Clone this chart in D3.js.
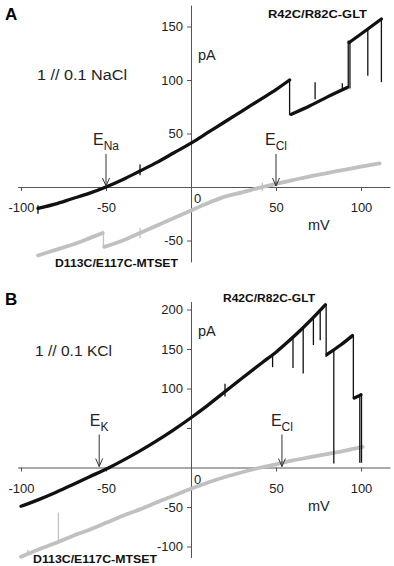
<!DOCTYPE html>
<html>
<head>
<meta charset="utf-8">
<script src="https://cdn.jsdelivr.net/npm/d3@7"></script>
<style>
  html, body { margin: 0; padding: 0; background: #fff; }
  svg { display: block; font-family: "Liberation Sans", Arial, sans-serif; }
</style>
</head>
<body>
<svg id="chart" width="394" height="566"></svg>
<script>
/* ── Données (mV, pA) ──────────────────────────────────────────────────── */

const xTicks = [-100, -50, 0, 50, 100];

// Panneau A : 1 // 0.1 NaCl
const yTicksA  = [-50, 50, 100, 150];
const yLabelsA = [-50, 50, 100, 150];
const glutA = [   // R42C/R82C-GLT, segments entre les sauts
  [[-90, -20], [-80, -16], [-70, -11], [-60, -6], [-50, 0], [-40, 7], [-30, 15], [-20, 23],
   [-10, 32], [0, 41], [10, 51], [20, 61], [30, 71], [40, 81], [50, 91], [58, 100]],
  [[59, 68], [70, 76], [80, 84], [92, 93]],
  [[93, 135], [100, 143], [106, 150], [112, 157]]
];
const glutSpikesA = [   // [mV, pA départ, pA arrivée]
  [58, 100, 67], [92.5, 93, 137], [93.5, 92, 136], [73, 82, 98], [89, 90, 97],
  [104, 147, 104], [112, 157, 98], [-30, 11, 21], [-90, -25, -17]
];
const mtsetA = [   // D113C/E117C-MTSET
  [[-90, -64], [-80, -59], [-70, -54], [-60, -48], [-52, -43]],
  [[-51, -56], [-40, -50], [-30, -43], [-20, -36], [-10, -29], [0, -22], [10, -15], [20, -9],
   [30, -5], [42, 0], [50, 3], [60, 6.5], [70, 10], [80, 13], [90, 16], [100, 19], [111, 22]]
];
const mtsetSpikesA = [[-51.5, -43, -57], [-30, -48, -38], [42, -4, 4]];
const reversalA = [{ ion: 'Na', mV: -50 }, { ion: 'Cl', mV: 50 }];

// Panneau B : 1 // 0.1 KCl
const yTicksB  = [-100, -50, 50, 100, 150, 200];
const yLabelsB = [-100, -50, 100, 150, 200];
const glutB = [
  [[-100, -49], [-90, -41], [-80, -32], [-70, -22], [-60, -12], [-48, 0], [-40, 9], [-30, 21],
   [-20, 34], [-10, 48], [0, 63], [10, 79], [20, 96], [30, 113], [42, 133], [50, 146],
   [58, 161], [65, 175], [72, 190], [79, 206]],
  [[80, 143], [88, 155], [95, 167]],
  [[96, 88], [98, 90], [100, 92]]
];
const glutSpikesB = [
  [79.5, 206, 140], [95.5, 167, 88], [84, 150, 5], [99.3, 90, 6], [100.3, 92, 6],
  [48, 142, 127], [60, 164, 126], [66, 176, 119], [72, 190, 155], [76, 198, 161], [20, 90, 106]
];
const mtsetB = [
  [[-100, -113], [-90, -104], [-80, -96], [-70, -87], [-60, -79], [-50, -70], [-40, -61],
   [-30, -53], [-20, -44], [-10, -35.5], [0, -27], [10, -19], [20, -12], [30, -6], [41, 0],
   [50, 4], [60, 9], [70, 13], [80, 17], [90, 21], [101, 26]]
];
const mtsetSpikesB = [[-78, -94, -57], [-96, -110, -104]];
const reversalB = [{ ion: 'K', mV: -54 }, { ion: 'Cl', mV: 53.5 }];

/* ── Dessin ─────────────────────────────────────────────────────────────── */

const svg = d3.select('#chart');
const INK = '#111', GREY = '#c0c0c0', AXIS = '#555';

function drawPanel(p) {
  const x = d3.scaleLinear().domain([-102, 117]).range([17.6, 389.9]);
  const y = d3.scaleLinear().domain(p.yDomain).range(p.yRange);
  const g = svg.append('g');
  const y0 = y(0);

  // Axe X (croise à 0 pA)
  g.append('g')
    .attr('transform', `translate(0,${y0})`)
    .call(d3.axisBottom(x).tickValues(xTicks).tickSizeInner(4).tickSizeOuter(0)
      .tickFormat(d => String(d)))
    .call(a => {
      a.attr('font-family', null).attr('font-size', null);
      a.select('.domain').attr('stroke', AXIS);
      a.selectAll('.tick line').attr('stroke', AXIS);
      a.selectAll('.tick text')
        .attr('fill', '#222').style('font-size', '13px')
        .attr('dy', 0)
        .attr('y', d => d === 0 ? 16 : 25)
        .attr('x', d => d === 0 ? 6 : 0);
    });

  // Axe Y (croise à 0 mV)
  g.append('g')
    .attr('transform', `translate(${x(0)},0)`)
    .call(d3.axisLeft(y).tickValues(p.yTicks).tickSizeInner(4).tickSizeOuter(0)
      .tickFormat(d => p.yLabels.includes(d) ? String(d) : ''))
    .call(a => {
      a.attr('font-family', null).attr('font-size', null);
      a.select('.domain').attr('stroke', AXIS);
      a.selectAll('.tick line').attr('stroke', AXIS);
      a.selectAll('.tick text').attr('fill', '#222').style('font-size', '13px').attr('x', -8);
    });

  const line = d3.line().x(d => x(d[0])).y(d => y(d[1])).curve(d3.curveMonotoneX);

  function trace(segments, spikes, color, w) {
    g.append('g').selectAll('path').data(segments).join('path')
      .attr('d', line).attr('fill', 'none')
      .attr('stroke', color).attr('stroke-width', w)
      .attr('stroke-linejoin', 'round').attr('stroke-linecap', 'round');
    g.append('g').selectAll('line').data(spikes).join('line')
      .attr('x1', d => x(d[0])).attr('x2', d => x(d[0]))
      .attr('y1', d => y(d[1])).attr('y2', d => y(d[2]))
      .attr('stroke', color).attr('stroke-width', 1.3);
  }
  trace(p.mtset, p.mtsetSpikes, GREY, 3.8);
  trace(p.glut, p.glutSpikes, INK, 3.3);

  // Flèches des potentiels d'inversion
  const rev = g.append('g').selectAll('g').data(p.reversal).join('g')
    .attr('transform', d => `translate(${x(d.mV)},${y0})`);
  rev.append('line').attr('x1', 0).attr('x2', 0).attr('y1', -33).attr('y2', -1)
    .attr('stroke', '#333').attr('stroke-width', 1);
  rev.append('path').attr('d', 'M-3.5,-9L0,-1L3.5,-9')
    .attr('fill', 'none').attr('stroke', '#333').attr('stroke-width', 1);
  const lab = rev.append('text').attr('y', -42).attr('text-anchor', 'middle').attr('fill', '#222');
  lab.append('tspan').style('font-size', '16px').text('E');
  lab.append('tspan').style('font-size', '12px').attr('dy', 5).text(d => d.ion);

  // Textes
  g.append('text').attr('x', 5).attr('y', p.top + 20)
    .style('font-size', '17px').style('font-weight', 'bold').text(p.letter);
  g.append('text').attr('x', p.salt.x).attr('y', p.salt.y)
    .attr('textLength', p.salt.w).attr('lengthAdjust', 'spacingAndGlyphs')
    .style('font-size', '14px').attr('fill', '#222').text(p.salt.t);
  g.append('text').attr('x', 198).attr('y', p.pAy).style('font-size', '14.5px').attr('fill', '#222').text('pA');
  g.append('text').attr('x', 308).attr('y', y0 + 43).style('font-size', '14.5px').attr('fill', '#222').text('mV');
  for (const n of p.names) {
    g.append('text').attr('x', n.x).attr('y', n.y)
      .attr('textLength', n.w).attr('lengthAdjust', 'spacingAndGlyphs')
      .style('font-size', '11px').style('font-weight', 'bold').attr('fill', '#111').text(n.t);
  }
}

drawPanel({
  letter: 'A', top: 0,
  yDomain: [-70, 170], yRange: [187 + 70 * 1.07, 187 - 170 * 1.07],
  yTicks: yTicksA, yLabels: yLabelsA,
  glut: glutA, glutSpikes: glutSpikesA, mtset: mtsetA, mtsetSpikes: mtsetSpikesA,
  reversal: reversalA,
  salt: { t: '1 // 0.1 NaCl', x: 37, y: 80, w: 90 },
  pAy: 60,
  names: [
    { t: 'R42C/R82C-GLT', x: 268, y: 18, w: 99 },
    { t: 'D113C/E117C-MTSET', x: 55, y: 267, w: 123 }
  ]
});

drawPanel({
  letter: 'B', top: 285,
  yDomain: [-114, 210], yRange: [467.5 + 114 * 0.79, 467.5 - 210 * 0.79],
  yTicks: yTicksB, yLabels: yLabelsB,
  glut: glutB, glutSpikes: glutSpikesB, mtset: mtsetB, mtsetSpikes: mtsetSpikesB,
  reversal: reversalB,
  salt: { t: '1 // 0.1 KCl', x: 35, y: 356, w: 77 },
  pAy: 336,
  names: [
    { t: 'R42C/R82C-GLT', x: 223, y: 302, w: 92 },
    { t: 'D113C/E117C-MTSET', x: 33, y: 563, w: 124 }
  ]
});
</script>
</body>
</html>
